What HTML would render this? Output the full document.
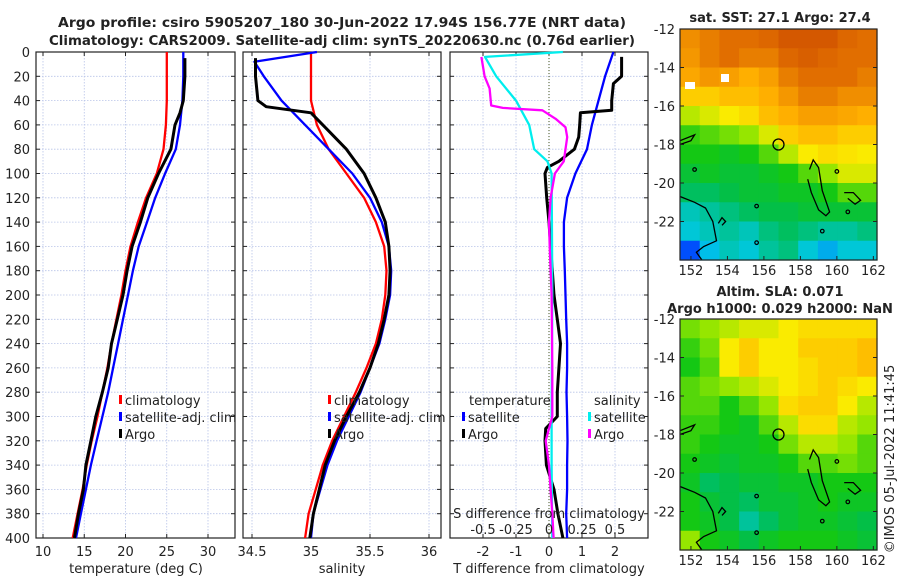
<!DOCTYPE html>
<html><head><meta charset="utf-8">
<style>
body{margin:0;background:#fff;}
svg{display:block;font-family:"DejaVu Sans","Liberation Sans",sans-serif;}
</style></head>
<body>
<svg id="fig" width="900" height="580" viewBox="0 0 900 580"></svg>
<script>
// ---------- DATA ----------
const tDepthClim = [0,20,40,60,80,100,120,140,160,180,200,220,240,260,280,300,320,340,360,380,400];
const tClim = [25.0,25.0,25.0,24.9,24.6,23.8,22.5,21.5,20.6,20.0,19.5,18.9,18.3,17.8,17.2,16.6,15.9,15.3,14.8,14.2,13.6];
const tSat  = [27.0,27.0,26.9,26.6,26.1,24.8,23.6,22.6,21.6,20.9,20.3,19.7,19.1,18.5,17.9,17.2,16.5,15.8,15.2,14.6,14.0];
const tDepthArgo = [5,20,40,50,60,80,100,120,140,160,180,200,220,240,260,280,300,320,340,360,380,400];
const tArgo = [27.2,27.2,27.0,26.6,26.0,25.5,24.0,22.7,21.8,20.8,20.2,19.7,19.0,18.3,17.9,17.2,16.4,15.8,15.2,14.9,14.3,13.8];
const sDepthClim = [0,20,40,60,80,100,120,140,160,180,200,220,240,260,280,300,320,340,360,380,400];
const sClim = [35.0,35.0,35.0,35.05,35.15,35.3,35.45,35.55,35.62,35.64,35.63,35.6,35.55,35.47,35.38,35.28,35.18,35.1,35.04,34.98,34.95];
const sDepthArgo = [5,20,40,45,50,60,80,100,120,140,160,180,200,220,240,260,280,300,320,340,360,380,400];
const sArgo = [34.53,34.53,34.55,34.62,35.0,35.1,35.3,35.45,35.55,35.63,35.66,35.67,35.66,35.62,35.57,35.5,35.41,35.3,35.2,35.12,35.07,35.02,34.99];
const sDepthSat = [0,8,20,40,60,80,100,120,140,160,180,200,220,240,260,280,300,320,340,360,380,400];
const sSat = [35.05,34.52,34.6,34.75,34.95,35.15,35.35,35.5,35.6,35.66,35.68,35.67,35.63,35.58,35.5,35.42,35.32,35.22,35.14,35.08,35.02,35.0];
const dDepthTSat = [0,20,40,60,80,100,120,140,160,180,200,220,240,260,280,300,320,340,360,380,400];
const dTSat = [1.95,1.7,1.5,1.3,1.15,0.8,0.55,0.45,0.45,0.48,0.5,0.52,0.55,0.55,0.53,0.55,0.56,0.55,0.55,0.52,0.55];
const dDepthTArgo = [4,20,26,40,48,50,60,70,80,90,95,100,120,140,160,180,200,220,240,260,280,300,310,320,340,360,380,400];
const dTArgo = [2.2,2.2,1.95,1.9,1.9,0.95,0.93,0.9,0.77,0.3,-0.05,-0.12,-0.07,0.0,0.05,0.1,0.15,0.25,0.35,0.3,0.25,0.25,-0.1,-0.12,-0.08,0.15,0.27,0.42];
const dDepthSSat = [0,4,20,40,60,80,90,100,140,200,260,300,340,400];
const dSSat = [0.105,-0.485,-0.4,-0.25,-0.15,-0.112,-0.012,0.02,0.022,0.025,0.022,0.02,0.02,0.025];
const dDepthSArgo = [4,20,30,44,46,48,55,62,70,80,90,100,120,140,160,200,260,300,320,340,360,380,400];
const dSArgo = [-0.512,-0.488,-0.45,-0.438,-0.35,-0.05,0.05,0.125,0.138,0.125,0.112,0.045,0.012,0.0,0.005,0.02,0.025,0.025,-0.025,0.0,0.012,0.025,0.035];
const sstGrid = [
[0.78,0.8,0.82,0.82,0.83,0.85,0.85,0.85,0.83,0.82],
[0.77,0.8,0.82,0.8,0.8,0.83,0.84,0.83,0.82,0.82],
[0.75,0.77,0.76,0.74,0.76,0.8,0.82,0.82,0.82,0.8],
[0.7,0.7,0.72,0.72,0.74,0.77,0.8,0.8,0.78,0.78],
[0.62,0.64,0.66,0.68,0.72,0.74,0.76,0.76,0.75,0.74],
[0.54,0.56,0.58,0.6,0.64,0.7,0.72,0.72,0.7,0.7],
[0.52,0.52,0.5,0.52,0.56,0.62,0.66,0.68,0.67,0.66],
[0.48,0.5,0.48,0.48,0.5,0.52,0.56,0.6,0.64,0.64],
[0.44,0.44,0.46,0.48,0.48,0.5,0.5,0.52,0.56,0.56],
[0.38,0.4,0.42,0.44,0.46,0.46,0.48,0.48,0.48,0.48],
[0.36,0.38,0.4,0.38,0.42,0.44,0.42,0.4,0.4,0.42],
[0.22,0.34,0.38,0.36,0.4,0.42,0.36,0.32,0.36,0.36]];
const slaGrid = [
[0.58,0.6,0.62,0.64,0.64,0.66,0.68,0.68,0.68,0.68],
[0.54,0.58,0.66,0.7,0.66,0.66,0.7,0.7,0.7,0.72],
[0.52,0.56,0.66,0.7,0.66,0.66,0.68,0.7,0.7,0.72],
[0.56,0.58,0.6,0.62,0.64,0.66,0.68,0.7,0.68,0.66],
[0.56,0.56,0.52,0.56,0.6,0.68,0.7,0.7,0.66,0.62],
[0.54,0.54,0.52,0.5,0.56,0.62,0.68,0.68,0.62,0.6],
[0.54,0.52,0.5,0.5,0.52,0.58,0.62,0.62,0.6,0.56],
[0.52,0.5,0.48,0.5,0.5,0.52,0.56,0.56,0.58,0.56],
[0.5,0.44,0.46,0.48,0.48,0.5,0.5,0.52,0.52,0.52],
[0.52,0.48,0.46,0.44,0.48,0.48,0.5,0.52,0.5,0.5],
[0.52,0.5,0.46,0.4,0.44,0.48,0.5,0.5,0.48,0.46],
[0.6,0.52,0.5,0.46,0.5,0.52,0.52,0.52,0.5,0.48]];
const depthTicks = [0,20,40,60,80,100,120,140,160,180,200,220,240,260,280,300,320,340,360,380,400];
const tTicks = [10,15,20,25,30];
const sTicks = [34.5,35,35.5,36];
const dTTicks = [-2,-1,0,1,2];
const dSTickLabels = ["-0.5","-0.25","0","0.25","0.5"];
const dSTicks = [-0.5,-0.25,0,0.25,0.5];
const latTicks = [-12,-14,-16,-18,-20,-22];
const lonTicks = [152,154,156,158,160,162];

// ---------- HELPERS ----------
const NS="http://www.w3.org/2000/svg";
const svg=document.getElementById('fig');
function mk(tag,attrs,parent){const e=document.createElementNS(NS,tag);for(const k in attrs)e.setAttribute(k,attrs[k]);(parent||svg).appendChild(e);return e;}
function txt(s,x,y,opt,parent){const e=mk('text',Object.assign({x:x,y:y,'font-size':13,fill:'#222'},opt||{}),parent);e.textContent=s;return e;}
const top0=52,bot0=538;
function yD(d){return top0+d*(bot0-top0)/400;}
function lin(d0,d1,p0,p1){return v=>p0+(v-d0)*(p1-p0)/(d1-d0);}
const xT=lin(10,30,43,208);
const xS=lin(34.5,36,252,429);
const xDT=lin(-2,2,483,615);
const xDS=lin(-0.5,0.5,483,615);

function panel(x0,x1,name,xTicksArr,xf){
  const g=mk('g',{},svg);
  
  
  depthTicks.forEach(d=>{
    const l=mk('line',{x1:x0,x2:x1,y1:yD(d),y2:yD(d),stroke:'#b8c4e8','stroke-width':0.8,'stroke-dasharray':'1.5,1.5'},g);
    
    
    mk('line',{x1:x0,x2:x0+4,y1:yD(d),y2:yD(d),stroke:'#222'},g);
    mk('line',{x1:x1-4,x2:x1,y1:yD(d),y2:yD(d),stroke:'#222'},g);
  });
  xTicksArr.forEach(v=>{
    const x=xf(v);
    const l=mk('line',{x1:x,x2:x,y1:top0,y2:bot0,stroke:'#b8c4e8','stroke-width':0.8,'stroke-dasharray':'1.5,1.5'},g);
    
    
    mk('line',{x1:x,x2:x,y1:bot0-4,y2:bot0,stroke:'#222'},g);
    mk('line',{x1:x,x2:x,y1:top0,y2:top0+4,stroke:'#222'},g);
  });
  const r=mk('rect',{x:x0,y:top0,width:x1-x0,height:bot0-top0,fill:'none',stroke:'#222','stroke-width':1.2},g);
  
  
  return g;
}
function line(xs,ds,xf,color,name,w){
  const pts=xs.map((v,i)=>xf(v).toFixed(1)+','+yD(ds[i]).toFixed(1)).join(' ');
  const p=mk('polyline',{points:pts,fill:'none',stroke:color,'stroke-width':w||2.3,'stroke-linejoin':'round'});
  
  
  return p;
}
function legendEntry(x,y,color,label,name){
  const g=mk('g',{});
  
  
  mk('rect',{x:x,y:y-10,width:3,height:9,fill:color},g);
  txt(label,x+6,y,{'font-size':13},g);
}

const t1=txt('Argo profile: csiro 5905207_180 30-Jun-2022 17.94S 156.77E (NRT data)',342,27,{'text-anchor':'middle','font-weight':'bold','font-size':13.5,'textLength':568,'lengthAdjust':'spacingAndGlyphs'});

const t2=txt('Climatology: CARS2009. Satellite-adj clim: synTS_20220630.nc (0.76d earlier)',342,45,{'text-anchor':'middle','font-weight':'bold','font-size':13.5,'textLength':586,'lengthAdjust':'spacingAndGlyphs'});


// Panel 1
panel(36,235,'temperature-panel',tTicks,xT);
depthTicks.forEach(d=>{const t=txt(String(d),30,yD(d)+5,{'text-anchor':'end'});});
tTicks.forEach(v=>{const t=txt(String(v),xT(v),556,{'text-anchor':'middle'});});
txt('temperature (deg C)',136,573,{'text-anchor':'middle'});
line(tClim,tDepthClim,xT,'#ff0000','temp-climatology-line');
line(tSat,tDepthClim,xT,'#0000ff','temp-satellite-line');
line(tArgo,tDepthArgo,xT,'#000000','temp-argo-line',3);
legendEntry(119,405,'#ff0000','climatology','legend-climatology-1');
legendEntry(119,422,'#0000ff','satellite-adj. clim','legend-satellite-1');
legendEntry(119,439,'#000000','Argo','legend-argo-1');

// Panel 2
panel(243,441,'salinity-panel',sTicks,xS);
sTicks.forEach(v=>{const t=txt(String(v),xS(v),556,{'text-anchor':'middle'});});
txt('salinity',342,573,{'text-anchor':'middle'});
line(sClim,sDepthClim,xS,'#ff0000','sal-climatology-line');
line(sSat,sDepthSat,xS,'#0000ff','sal-satellite-line');
line(sArgo,sDepthArgo,xS,'#000000','sal-argo-line',3);
legendEntry(328,405,'#ff0000','climatology','legend-climatology-2');
legendEntry(328,422,'#0000ff','satellite-adj. clim','legend-satellite-2');
legendEntry(328,439,'#000000','Argo','legend-argo-2');

// Panel 3
panel(450,648,'difference-panel',dTTicks,xDT);
mk('line',{x1:xDT(0),x2:xDT(0),y1:top0,y2:bot0,stroke:'#445522','stroke-width':1,'stroke-dasharray':'1,2'});
dTTicks.forEach(v=>{const t=txt(String(v),xDT(v),556,{'text-anchor':'middle'});});
txt('T difference from climatology',549,573,{'text-anchor':'middle'});
line(dTSat,dDepthTSat,xDT,'#0000ff','dT-satellite-line');
line(dTArgo,dDepthTArgo,xDT,'#000000','dT-argo-line',3);
line(dSSat,dDepthSSat,xDS,'#00eeee','dS-satellite-line');
line(dSArgo,dDepthSArgo,xDS,'#ff00ff','dS-argo-line');
txt('S difference from climatology',549,518,{'text-anchor':'middle'});
dSTicks.forEach((v,i)=>{const t=txt(dSTickLabels[i],xDS(v),534,{'text-anchor':'middle'});});
txt('temperature',469,405,{});
legendEntry(462,422,'#0000ff','satellite','legend-t-satellite');
legendEntry(462,439,'#000000','Argo','legend-t-argo');
txt('salinity',594,405,{});
legendEntry(588,422,'#00eeee','satellite','legend-s-satellite');
legendEntry(588,439,'#ff00ff','Argo','legend-s-argo');

// ---------- MAPS ----------
const cmapStops=[[0,[0,0,140]],[0.2,[0,60,255]],[0.35,[0,200,230]],[0.45,[0,190,80]],[0.52,[20,200,20]],[0.6,[150,230,0]],[0.66,[250,235,0]],[0.74,[255,175,0]],[0.82,[225,110,0]],[0.9,[190,50,0]],[1,[150,0,0]]];
function cmap(v){for(let i=1;i<cmapStops.length;i++){if(v<=cmapStops[i][0]){const a=cmapStops[i-1],b=cmapStops[i];const t=(v-a[0])/(b[0]-a[0]);const c=a[1].map((x,k)=>Math.round(x+(b[1][k]-x)*t));return 'rgb('+c.join(',')+')';}}return 'rgb(150,0,0)';}
function mapPanel(x0,y0,grid,name){
  const x1=877,y1=y0+231;
  const lonX=lin(151.4,162.2,x0,x1), latY=lin(-12,-24,y0,y1);
  const g=mk('g',{});
  
  
  const rows=grid.length, cols=grid[0].length;
  const cw=(x1-x0)/cols, ch=(y1-y0)/rows;
  grid.forEach((row,r)=>row.forEach((v,c)=>{
    const cell=mk('rect',{x:x0+c*cw,y:y0+r*ch,width:cw+0.6,height:ch+0.6,fill:cmap(v)},g);
    
    
  }));
  const cs={fill:'none',stroke:'#000','stroke-width':1.3};
  const P=(pts)=>pts.map(p=>lonX(p[0]).toFixed(1)+','+latY(p[1]).toFixed(1)).join(' ');
  const shapes=[
    [[151.4,-20.7],[152.2,-21],[152.8,-21.3],[153.2,-22],[153.4,-23],[152.7,-23.3],[152.3,-23.6],[152.6,-24]],
    [[158.5,-19.3],[158.7,-18.8],[159.0,-19.2],[159.2,-20.4],[159.6,-21.5],[159.4,-21.7],[159.0,-21.4],[158.6,-20.5],[158.4,-19.8]],
    [[160.4,-20.5],[160.9,-20.5],[161.3,-20.9],[161,-21.1],[160.6,-20.8]],
    [[151.4,-17.8],[152.2,-17.5],[152.0,-17.8],[151.4,-18]],
    [[153.5,-22.1],[153.7,-21.8],[153.9,-22.0],[153.7,-22.2]]
  ];
  shapes.forEach(s=>{const p=mk('polyline',Object.assign({points:P(s)},cs),g);});
  const ci=mk('circle',{cx:lonX(156.8),cy:latY(-18),r:5.5,fill:'none',stroke:'#000','stroke-width':1.3},g);
  
  
  [[152.2,-19.3],[155.6,-21.2],[155.6,-23.1],[160,-19.4],[159.2,-22.5],[160.6,-21.5]].forEach(p=>mk('circle',{cx:lonX(p[0]),cy:latY(p[1]),r:1.8,fill:'none',stroke:'#000','stroke-width':1.2},g));
  mk('rect',{x:x0,y:y0,width:x1-x0,height:y1-y0,fill:'none',stroke:'#222','stroke-width':1.2},g);
  latTicks.forEach(v=>{
    const y=latY(v);
    mk('line',{x1:x1-4,x2:x1,y1:y,y2:y,stroke:'#222'},g);
    mk('line',{x1:x0,x2:x0+4,y1:y,y2:y,stroke:'#222'},g);
    const t=txt(String(v),x0-5,y+5,{'text-anchor':'end'},g);
    
    
  });
  lonTicks.forEach(v=>{
    const x=lonX(v);
    mk('line',{x1:x,x2:x,y1:y1-4,y2:y1,stroke:'#222'},g);
    const t=txt(String(v),x,y1+15,{'text-anchor':'middle'},g);
    
    
  });
}
mapPanel(680,29,sstGrid,'sst-map');
mapPanel(680,319,slaGrid,'sla-map');
mk('rect',{x:685,y:82,width:10,height:7,fill:'#fff'});
mk('rect',{x:721,y:74,width:8,height:8,fill:'#fff'});
txt('sat. SST: 27.1 Argo: 27.4',780,22,{'text-anchor':'middle','font-weight':'bold'});
txt('Altim. SLA: 0.071',780,296,{'text-anchor':'middle','font-weight':'bold'});
txt('Argo h1000: 0.029 h2000: NaN',780,313,{'text-anchor':'middle','font-weight':'bold'});
const cr=txt('©IMOS 05-Jul-2022 11:41:45',0,0,{'text-anchor':'middle','transform':'translate(894,459) rotate(-90)'});


</script>
</body></html>
